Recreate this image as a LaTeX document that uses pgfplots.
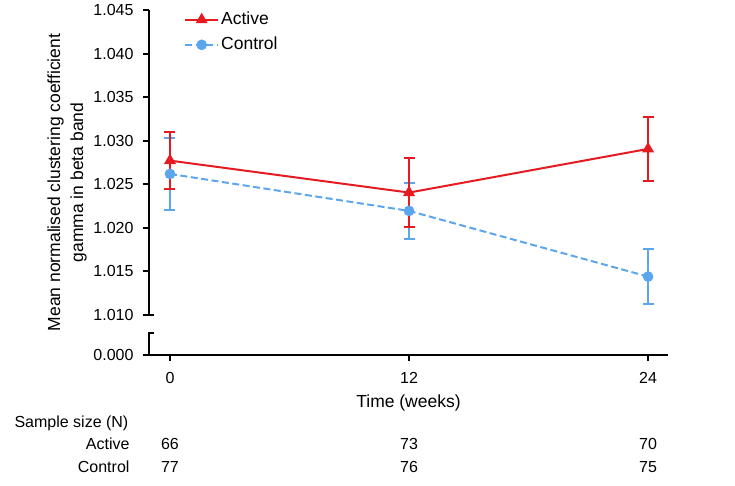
\documentclass[border=0pt]{standalone}
\usepackage{pgfplots}
\pgfplotsset{compat=1.18}
\usepackage{fontspec}
\setmainfont{Liberation Sans}

\definecolor{activecol}{RGB}{228,28,34}
\definecolor{controlcol}{RGB}{92,166,238}

% mean and standard error
\pgfplotstableread{
x  y        e
0  1.02772  0.00327
12 1.02405  0.00396
24 1.02906  0.00370
}\activedata
\pgfplotstableread{
x  y        e
0  1.02619  0.00410
12 1.02195  0.00320
24 1.01441  0.00320
}\controldata

\begin{document}
\fontsize{16}{19}\selectfont
\begin{tikzpicture}
\begin{axis}[
    name=ax,
    at={(0,0)}, anchor=south west,
    scale only axis,
    width=519pt, height=345pt,
    xmin=-1.054, xmax=25,
    ymin=1.005413, ymax=1.045,
    clip=false,
    axis x line*=bottom, axis y line*=left,
    axis line style={draw=none},
    tick align=outside,
    major tick length=6pt,
    tick style={black, line width=2pt},
    xtick={0,12,24},
    xticklabels={0,12,24},
    ytick={1.005413,1.010,1.015,1.020,1.025,1.030,1.035,1.040,1.045},
    yticklabels={0.000,1.010,1.015,1.020,1.025,1.030,1.035,1.040,1.045},
    /pgf/number format/assume math mode=true,
    yticklabel style={xshift=-4pt},
    xticklabel style={yshift=-6pt},
    xlabel={Time (weeks)},
    xlabel style={at={(0.5,0)}, anchor=center, yshift=-48pt, font=\fontsize{17.5}{22}\selectfont},
    ylabel={Mean normalised clustering coefficient\\gamma in beta band},
    ylabel style={at={(0,0.5)}, anchor=center, yshift=82pt, align=center,
        font=\fontsize{17.5}{23}\selectfont},
    reverse legend,
    legend cell align=left,
    legend style={draw=none, fill=none, at={(0.0674,1.0)}, anchor=north west,
        inner sep=0pt, row sep=6pt, font=\fontsize{17.5}{21}\selectfont},
    legend image code/.code={
        \draw[mark repeat=2, mark phase=2, #1]
            plot coordinates {(0pt,0pt) (16.5pt,0pt) (33pt,0pt)};},
]
\addplot[controlcol, line width=2pt, dash pattern=on 7pt off 3.5pt,
    mark=*, mark size=4.3pt, mark options={solid},
    error bars/.cd, y dir=both, y explicit,
    error bar style={controlcol, line width=2pt, solid},
    error mark options={rotate=90, mark size=5.5pt, line width=2pt, controlcol, solid}]
    table[x=x, y=y, y error=e] {\controldata};
\addlegendentry{Control}
\addplot[activecol, line width=2pt,
    mark=triangle*, mark size=5pt,
    error bars/.cd, y dir=both, y explicit,
    error bar style={activecol, line width=2pt},
    error mark options={rotate=90, mark size=5.5pt, line width=2pt, activecol}]
    table[x=x, y=y, y error=e] {\activedata};
\addlegendentry{Active}

% broken y axis and x axis
\draw[line width=2pt] (axis cs:-1.054,1.045) -- (axis cs:-1.054,1.010) -- ([xshift=5pt]axis cs:-1.054,1.010);
\draw[line width=2pt] ([xshift=5pt]axis cs:-1.054,1.00794) -- (axis cs:-1.054,1.00794) -- (axis cs:-1.054,1.005413);
\draw[line width=2pt] ([xshift=-6pt]axis cs:-1.054,1.005413) -- (axis cs:25,1.005413);

% sample sizes
\node[anchor=west] at ([xshift=-140pt, yshift=-68pt]rel axis cs:0,0) {Sample size (N)};
\node[anchor=east] at ([xshift=-14pt, yshift=-89pt]rel axis cs:0,0) {Active};
\node[anchor=east] at ([xshift=-14pt, yshift=-112pt]rel axis cs:0,0) {Control};
\node at ([yshift=-89pt]axis cs:0,1.005413) {66};
\node at ([yshift=-89pt]axis cs:12,1.005413) {73};
\node at ([yshift=-89pt]axis cs:24,1.005413) {70};
\node at ([yshift=-112pt]axis cs:0,1.005413) {77};
\node at ([yshift=-112pt]axis cs:12,1.005413) {76};
\node at ([yshift=-112pt]axis cs:24,1.005413) {75};
\end{axis}
\pgfresetboundingbox
\path ([xshift=-149pt, yshift=-130pt]ax.south west) rectangle ++(735pt,485pt);
\end{tikzpicture}
\end{document}
